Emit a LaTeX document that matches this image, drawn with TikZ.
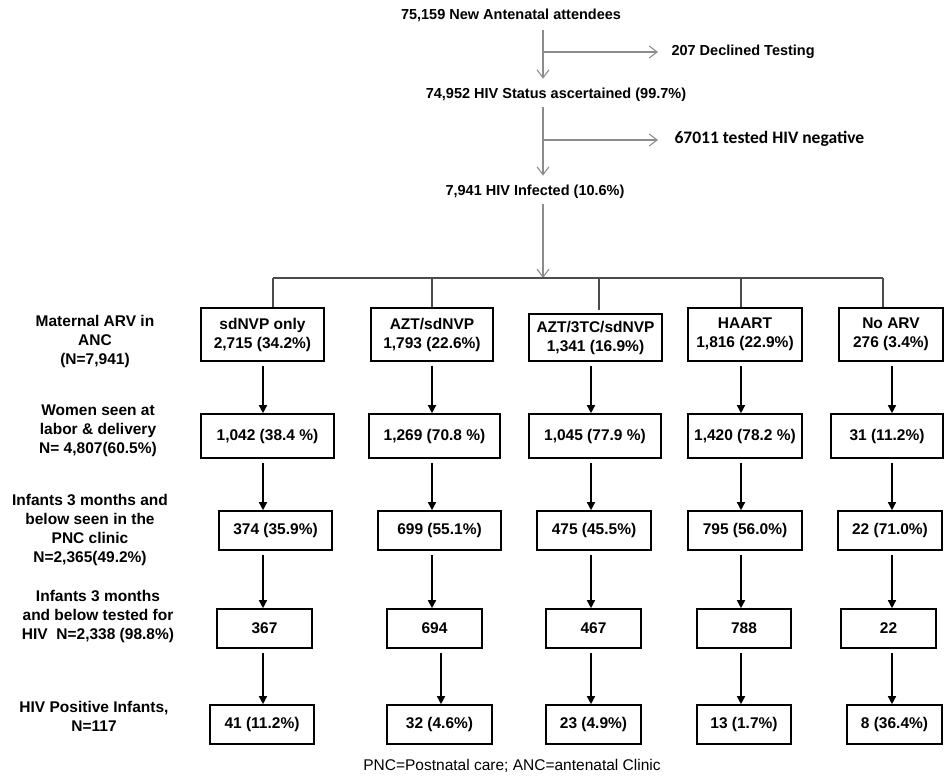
\documentclass[tikz,border=0pt]{standalone}
\usepackage{fontspec}
\setmainfont{Liberation Sans}
\newfontfamily\calibri{Carlito}
\usetikzlibrary{arrows.meta,positioning}

\begin{document}
\begin{tikzpicture}[x=1pt,y=-1pt,
  box/.style={draw,line width=1.6pt,inner sep=0pt,align=center,font=\fontsize{15.5}{19}\selectfont\bfseries},
  lbl/.style={align=center,font=\fontsize{15.5}{19}\selectfont\bfseries},
  top/.style={font=\fontsize{14.5}{17}\selectfont\bfseries},
  garr/.style={draw=gray!90,line width=1.1pt,-{Straight Barb[length=8pt,width=12pt]}},
  gline/.style={draw=gray!60!black,line width=1.1pt},
  arr/.style={line width=1.4pt,-{Triangle[length=8pt,width=8pt]},shorten <=4pt}]
\useasboundingbox (0,0) rectangle (945,776);

% top of the flow
\node[top] (t1) at (511,15) {75,159 New Antenatal attendees};
\node[top] (t2) at (556,95) {74,952 HIV Status ascertained (99.7\%)};
\node[top] (t3) at (535,192) {7,941 HIV Infected (10.6\%)};
\node[top,anchor=west] (d1) at (668,52) {207 Declined Testing};
\node[anchor=west,font=\fontsize{17.5}{20}\calibri\bfseries] (d2) at (671,139) {67011 tested HIV negative};

\coordinate (j1) at (543,52);
\coordinate (j2) at (543,140);
\coordinate (bar) at (543,278);
\draw[garr,shorten <=5pt,shorten >=6pt] (t1.south -| j1) -- (t2.north -| j1);
\draw[garr,shorten >=10pt] (j1) -- (d1.west |- j1);
\draw[garr,shorten <=2pt,shorten >=6pt] (t2.south -| j2) -- (t3.north -| j2);
\draw[garr,shorten >=13pt] (j2) -- (d2.west |- j2);
\draw[garr,shorten <=2pt] (t3.south -| bar) -- (bar);

% row labels
\node[lbl] (l1) at (95,341) {Maternal ARV in\\ANC\\(N=7,941)};
\node[lbl] (l2) at (98,431) {Women seen at\\labor \& delivery\\N= 4,807(60.5\%)};
\node[lbl] (l3) at (90,530) {Infants 3 months and\\below seen in the\\PNC clinic\\N=2,365(49.2\%)};
\node[lbl] (l4) at (98,616) {Infants 3 months\\and below tested for\\HIV\ \ N=2,338 (98.8\%)};
\node[lbl] (l5) at (94,716) {HIV Positive Infants,\\N=117};

% maternal ARV
\node[box,minimum width=123pt,minimum height=53pt] (a1) at (262.5,334.5) {sdNVP only\\2,715 (34.2\%)};
\node[box,minimum width=122pt,minimum height=53pt] (a2) at (432,334.5) {AZT/sdNVP\\1,793 (22.6\%)};
\node[box,minimum width=133pt,minimum height=47pt] (a3) at (595.5,337.5) {AZT/3TC/sdNVP\\1,341 (16.9\%)};
\node[box,minimum width=114pt,minimum height=53pt] (a4) at (745,334.5) {HAART\\1,816 (22.9\%)};
\node[box,minimum width=104pt,minimum height=53pt] (a5) at (891,334.5) {No ARV\\276 (3.4\%)};

% labor and delivery
\node[box,minimum width=133pt,minimum height=44pt] (b1) at (267.5,436) {1,042 (38.4 \%)};
\node[box,minimum width=131pt,minimum height=44pt] (b2) at (434.5,436) {1,269 (70.8 \%)};
\node[box,minimum width=132pt,minimum height=44pt] (b3) at (595,436) {1,045 (77.9 \%)};
\node[box,minimum width=114pt,minimum height=44pt] (b4) at (745,436) {1,420 (78.2 \%)};
\node[box,minimum width=112pt,minimum height=44pt] (b5) at (887,436) {31 (11.2\%)};

% PNC clinic
\node[box,minimum width=113pt,minimum height=39pt] (c1) at (275.5,530.5) {374 (35.9\%)};
\node[box,minimum width=123pt,minimum height=39pt] (c2) at (439.5,530.5) {699 (55.1\%)};
\node[box,minimum width=114pt,minimum height=39pt] (c3) at (594,530.5) {475 (45.5\%)};
\node[box,minimum width=114pt,minimum height=39pt] (c4) at (745,530.5) {795 (56.0\%)};
\node[box,minimum width=104pt,minimum height=39pt] (c5) at (890,530.5) {22 (71.0\%)};

% tested
\node[box,minimum width=95pt,minimum height=39pt] (e1) at (264.5,628.5) {367};
\node[box,minimum width=95pt,minimum height=39pt] (e2) at (434.5,628.5) {694};
\node[box,minimum width=95pt,minimum height=39pt] (e3) at (593.5,628.5) {467};
\node[box,minimum width=94pt,minimum height=39pt] (e4) at (744,628.5) {788};
\node[box,minimum width=95pt,minimum height=39pt] (e5) at (888.5,628.5) {22};

% positive
\node[box,minimum width=104pt,minimum height=39pt] (f1) at (262,724.5) {41 (11.2\%)};
\node[box,minimum width=105pt,minimum height=39pt] (f2) at (439.5,724.5) {32 (4.6\%)};
\node[box,minimum width=95pt,minimum height=39pt] (f3) at (593.5,724.5) {23 (4.9\%)};
\node[box,minimum width=94pt,minimum height=39pt] (f4) at (744,724.5) {13 (1.7\%)};
\node[box,minimum width=95pt,minimum height=39pt] (f5) at (894.5,724.5) {8 (36.4\%)};

\node[font=\fontsize{15.5}{19}\selectfont] (note) at (512,766) {PNC=Postnatal care; ANC=antenatal Clinic};

% split bar
\coordinate (h1) at (273,278);
\coordinate (h2) at (432,278);
\coordinate (h3) at (599,278);
\coordinate (h4) at (741,278);
\coordinate (h5) at (883,278);
\draw[gline] (h1) -- (h5);
\draw[gline] (h1) -- (h1 |- a1.north);
\draw[gline] (h2) -- (h2 |- a2.north);
\draw[gline] (h3) -- ([yshift=3pt]h3 |- a3.north);
\draw[gline] (h4) -- (h4 |- a4.north);
\draw[gline] (h5) -- (h5 |- a5.north);

% column arrows
\coordinate (k1) at (263,0);
\coordinate (k2) at (432,0);
\coordinate (k3) at (591,0);
\coordinate (k4) at (741,0);
\coordinate (k5) at (892,0);
\coordinate (k6) at (441,0);
\draw[arr] (a1.south -| k1) -- (b1.north -| k1);
\draw[arr] (a2.south -| k2) -- (b2.north -| k2);
\draw[arr] (a3.south -| k3) -- (b3.north -| k3);
\draw[arr] (a4.south -| k4) -- (b4.north -| k4);
\draw[arr] (a5.south -| k5) -- (b5.north -| k5);
\draw[arr] (b1.south -| k1) -- (c1.north -| k1);
\draw[arr] (b2.south -| k2) -- (c2.north -| k2);
\draw[arr] (b3.south -| k3) -- (c3.north -| k3);
\draw[arr] (b4.south -| k4) -- (c4.north -| k4);
\draw[arr] (b5.south -| k5) -- (c5.north -| k5);
\draw[arr] (c1.south -| k1) -- (e1.north -| k1);
\draw[arr] (c2.south -| k2) -- (e2.north -| k2);
\draw[arr] (c3.south -| k3) -- (e3.north -| k3);
\draw[arr] (c4.south -| k4) -- (e4.north -| k4);
\draw[arr] (c5.south -| k5) -- (e5.north -| k5);
\draw[arr] (e1.south -| k1) -- (f1.north -| k1);
\draw[arr] (e2.south -| k6) -- (f2.north -| k6);
\draw[arr] (e3.south -| k3) -- (f3.north -| k3);
\draw[arr] (e4.south -| k4) -- (f4.north -| k4);
\draw[arr] (e5.south -| k5) -- (f5.north -| k5);
\end{tikzpicture}
\end{document}
